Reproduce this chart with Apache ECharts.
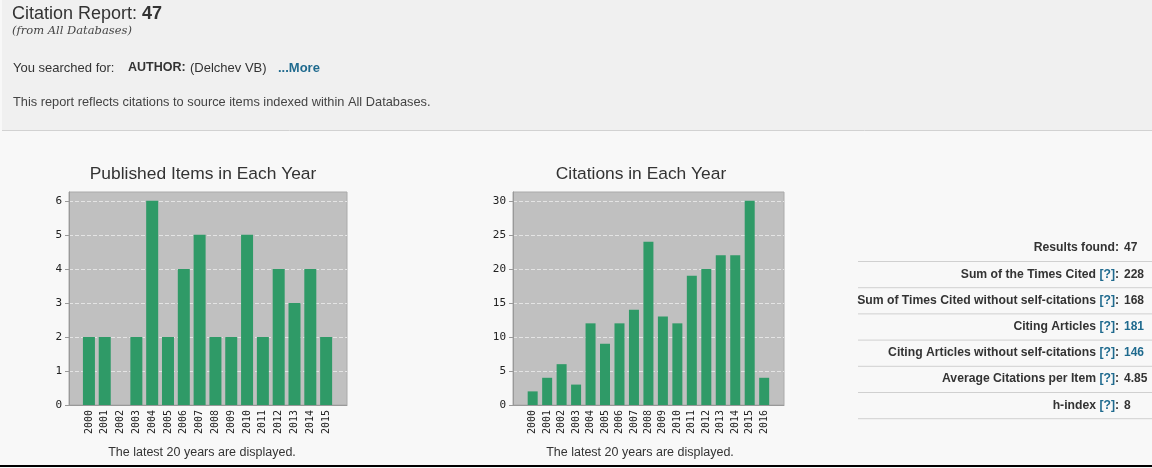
<!DOCTYPE html>
<html>
<head>
<meta charset="utf-8">
<script src="https://cdn.jsdelivr.net/npm/echarts@6/dist/echarts.min.js"></script>
<style>
  html, body { margin: 0; padding: 0; background: #f8f8f8; }
  #main { width: 1152px; height: 468px; }
</style>
</head>
<body>
<div id="main"></div>
<script>
let years1 = ['2000', '2001', '2002', '2003', '2004', '2005', '2006', '2007', '2008', '2009', '2010', '2011', '2012', '2013', '2014', '2015'];
let published = [2, 2, 0, 2, 6, 2, 4, 5, 2, 2, 5, 2, 4, 3, 4, 2];

let years2 = ['2000', '2001', '2002', '2003', '2004', '2005', '2006', '2007', '2008', '2009', '2010', '2011', '2012', '2013', '2014', '2015', '2016'];
let citations = [2, 4, 6, 3, 12, 9, 12, 14, 24, 13, 12, 19, 20, 22, 22, 30, 4];

let yTicks1 = [0, 1, 2, 3, 4, 5, 6];
let yTicks2 = [0, 5, 10, 15, 20, 25, 30];

let statLabels = ['Results found', 'Sum of the Times Cited', 'Sum of Times Cited without self-citations', 'Citing Articles', 'Citing Articles without self-citations', 'Average Citations per Item', 'h-index'];
let statHelp = [false, true, true, true, true, true, true];
let statValues = ['47', '228', '168', '181', '146', '4.85', '8'];
let statLinked = [false, false, false, true, true, false, false];

let chartTitles = ['Published Items in Each Year', 'Citations in Each Year'];
let footNote = 'The latest 20 years are displayed.';

let teal = '#1f6a8e';
let barColor = '#2f9a67';
let sans = '"Liberation Sans", Arial, sans-serif';
let mono = '"DejaVu Sans Mono", monospace';

function indexed(values) {
    let out = [];
    for (let i = 0; i < values.length; i++) {
        out.push([i, values[i]]);
    }
    return out;
}

function makeXAxis(gridIndex, labels, min, max) {
    return {
        type: 'value',
        gridIndex: gridIndex,
        min: min,
        max: max,
        axisLine: {onZero: false, lineStyle: {color: '#999'}},
        axisTick: {show: false},
        splitLine: {show: false},
        axisLabel: {
            customValues: labels.map(function (l, i) { return i; }),
            formatter: function (v) { return labels[Math.round(v)]; },
            rotate: 90,
            margin: 5,
            fontFamily: mono,
            fontSize: 10,
            color: '#222'
        }
    };
}

function makeYAxis(gridIndex, ticks, step, max) {
    return {
        type: 'value',
        gridIndex: gridIndex,
        min: 0,
        max: max,
        interval: step,
        axisLine: {show: true, onZero: false, lineStyle: {color: '#999'}},
        axisTick: {show: true, length: 4, customValues: ticks, lineStyle: {color: '#999'}},
        splitLine: {show: true, lineStyle: {color: '#e4e4e4', type: 'dashed'}},
        axisLabel: {
            customValues: ticks,
            margin: 7,
            fontFamily: mono,
            fontSize: 11,
            color: '#222'
        }
    };
}

let graphics = [
    {type: 'rect', shape: {x: 2, y: 0, width: 1150, height: 130}, style: {fill: '#f0f0f0'}, z: -10},
    {type: 'line', shape: {x1: 2, y1: 130.5, x2: 1152, y2: 130.5}, style: {stroke: '#d2d2d2', lineWidth: 1}},
    {type: 'line', shape: {x1: 0, y1: 466, x2: 1152, y2: 466}, style: {stroke: '#000', lineWidth: 2}},
    {type: 'text', x: 12, y: 14, style: {
        text: '{n|Citation Report: }{b|47}',
        textVerticalAlign: 'middle',
        rich: {
            n: {font: '18px ' + sans, fill: '#333'},
            b: {font: 'bold 18px ' + sans, fill: '#333'}
        }
    }},
    {type: 'text', x: 12, y: 31, style: {text: '(from All Databases)', font: 'italic 11.5px "DejaVu Serif", serif', fill: '#444', textVerticalAlign: 'middle'}},
    {type: 'text', x: 13, y: 68, style: {text: 'You searched for:', font: '13px ' + sans, fill: '#333', textVerticalAlign: 'middle'}},
    {type: 'text', x: 128, y: 68, style: {text: 'AUTHOR:', font: 'bold 12.5px ' + sans, fill: '#333', textVerticalAlign: 'middle'}},
    {type: 'text', x: 190, y: 68, style: {text: '(Delchev VB)', font: '13px ' + sans, fill: '#333', textVerticalAlign: 'middle'}},
    {type: 'text', x: 278, y: 68, style: {text: '...More', font: 'bold 13px ' + sans, fill: teal, textVerticalAlign: 'middle'}},
    {type: 'text', x: 13, y: 102, style: {text: 'This report reflects citations to source items indexed within All Databases.', font: '12.8px ' + sans, fill: '#444', textVerticalAlign: 'middle'}},
    {type: 'text', x: 203, y: 174, style: {text: chartTitles[0], font: '17.4px ' + sans, fill: '#333', textAlign: 'center', textVerticalAlign: 'middle'}},
    {type: 'text', x: 641, y: 174, style: {text: chartTitles[1], font: '17.4px ' + sans, fill: '#333', textAlign: 'center', textVerticalAlign: 'middle'}},
    {type: 'text', x: 202, y: 453, style: {text: footNote, font: '12.5px ' + sans, fill: '#333', textAlign: 'center', textVerticalAlign: 'middle'}},
    {type: 'text', x: 640, y: 453, style: {text: footNote, font: '12.5px ' + sans, fill: '#333', textAlign: 'center', textVerticalAlign: 'middle'}}
];

// stats table on the right
for (let i = 0; i < statLabels.length; i++) {
    let y = 248 + i * 26.2;
    let label = '{b|' + statLabels[i] + (statHelp[i] ? ' }{q|[?]}{b|:}' : ':}');
    graphics.push({type: 'text', x: 1119, y: y, style: {
        text: label,
        textAlign: 'right',
        textVerticalAlign: 'middle',
        rich: {
            b: {font: 'bold 12.2px ' + sans, fill: '#333'},
            q: {font: 'bold 12.2px ' + sans, fill: teal}
        }
    }});
    graphics.push({type: 'text', x: 1124, y: y, style: {
        text: statValues[i],
        font: 'bold 12px ' + sans,
        fill: statLinked[i] ? teal : '#333',
        textVerticalAlign: 'middle'
    }});
    graphics.push({type: 'line', shape: {x1: 858, y1: y + 13.5, x2: 1152, y2: y + 13.5}, style: {stroke: '#d0d0d0', lineWidth: 1}});
}

let chart = echarts.init(document.getElementById('main'));

let option = {
    backgroundColor: '#f8f8f8',
    animation: false,
    grid: [
        {left: 69, top: 192, width: 278, height: 213, show: true, backgroundColor: '#c0c0c0', borderColor: '#aaa', borderWidth: 1},
        {left: 513, top: 192, width: 271, height: 213, show: true, backgroundColor: '#c0c0c0', borderColor: '#aaa', borderWidth: 1}
    ],
    xAxis: [
        makeXAxis(0, years1, -1.26, 16.32),
        makeXAxis(1, years2, -1.36, 17.37)
    ],
    yAxis: [
        makeYAxis(0, yTicks1, 1, 6.26),
        makeYAxis(1, yTicks2, 5, 31.3)
    ],
    series: [
        {
            name: 'Published Items',
            type: 'bar',
            xAxisIndex: 0,
            yAxisIndex: 0,
            barWidth: 12,
            data: indexed(published),
            itemStyle: {color: barColor}
        },
        {
            name: 'Citations',
            type: 'bar',
            xAxisIndex: 1,
            yAxisIndex: 1,
            barWidth: 10,
            data: indexed(citations),
            itemStyle: {color: barColor}
        }
    ],
    graphic: graphics
};

chart.setOption(option);
</script>
</body>
</html>
